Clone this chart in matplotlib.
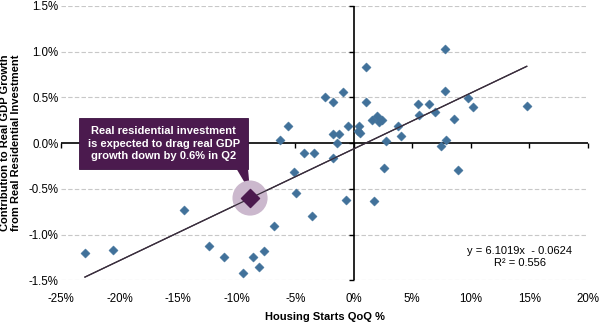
import matplotlib
matplotlib.use("Agg")
import matplotlib.pyplot as plt
import numpy as np
from matplotlib.patches import Rectangle, Polygon

plt.rcParams['font.family'] = ['Liberation Sans', 'DejaVu Sans']

# Housing starts QoQ % (x) vs contribution to real GDP growth from residential investment (y, %)
housing_starts = [-22.97, -20.55, -14.53, -12.40, -11.06, -9.44, -8.63, -8.12, -7.64, -6.79,
                  -6.30, -5.65, -5.13, -4.91, -4.27, -3.42, -3.59, -2.48, -1.74, -1.79,
                  -1.28, -1.40, -1.74, -0.89, -0.52, -0.63, 0.48, 0.35, 0.50, 1.05,
                  1.08, 1.73, 1.59, 1.97, 2.16, 2.45, 2.62, 2.76, 3.76, 4.04,
                  5.50, 5.58, 6.44, 6.92, 7.46, 7.83, 7.80, 7.86, 8.55, 8.94,
                  9.80, 10.17, 14.79]
gdp_contrib = [-1.20, -1.17, -0.73, -1.12, -1.24, -1.42, -1.25, -1.35, -1.175, -0.905,
               0.03, 0.19, -0.31, -0.55, -0.11, -0.11, -0.80, 0.51, 0.455, 0.10,
               0.098, 0.0, -0.16, 0.56, 0.19, -0.62, 0.19, 0.135, 0.11, 0.83,
               0.455, -0.63, 0.25, 0.30, 0.23, 0.25, -0.27, 0.02, 0.19, 0.08,
               0.43, 0.31, 0.43, 0.34, -0.03, 1.035, 0.57, 0.03, 0.26, -0.295,
               0.49, 0.40, 0.41]

# Q2 forecast point
q2_x = [-8.86]
q2_y = [-0.60]

# Regression: y = 6.1019x - 0.0624 (x as a fraction, y in %)
slope = 6.1019
intercept = -0.0624

x_ticks = [-25, -20, -15, -10, -5, 0, 5, 10, 15, 20]
x_tick_labels = ['-25%', '-20%', '-15%', '-10%', '-5%', '0%', '5%', '10%', '15%', '20%']
y_ticks = [-1.5, -1.0, -0.5, 0.0, 0.5, 1.0, 1.5]
y_tick_labels = ['-1.5%', '-1.0%', '-0.5%', '0.0%', '0.5%', '1.0%', '1.5%']

callout_text = "Real residential investment\nis expected to drag real GDP\ngrowth down by 0.6% in Q2"

fig = plt.figure(figsize=(6.0, 3.23), dpi=100)
ax = fig.add_axes([0.102, 0.132, 0.8775, 0.8495])
ax.set_xlim(-25, 20)
ax.set_ylim(-1.5, 1.5)

for s in ax.spines.values():
    s.set_visible(False)

# grid lines
for yv in y_ticks:
    if yv != 0:
        ax.axhline(yv, color='#C8C8C8', lw=0.8, ls=(0, (4, 2)), zorder=0)

# zero axes
ax.axhline(0, color='black', lw=1.2, zorder=1)
ax.axvline(0, color='black', lw=1.2, zorder=1)
ax.plot(x_ticks, np.zeros(len(x_ticks)), ls='none', marker=3, ms=3.5, mew=1.0,
        color='black', clip_on=False, zorder=1)
ax.plot(np.zeros(len(y_ticks)), y_ticks, ls='none', marker=0, ms=3.5, mew=1.0,
        color='black', clip_on=False, zorder=1)

ax.set_xticks(x_ticks)
ax.set_xticklabels(x_tick_labels)
ax.set_yticks(y_ticks)
ax.set_yticklabels(y_tick_labels)
ax.tick_params(axis='both', length=0, labelsize=8.3, colors='black')
ax.tick_params(axis='x', pad=9)
ax.tick_params(axis='y', pad=2)

# trend line
xl = np.array([min(housing_starts), max(housing_starts)])
ax.plot(xl, slope * xl / 100 + intercept, color='#3A2E3D', lw=0.9, zorder=3)

# data points
ax.scatter(housing_starts, gdp_contrib, marker='D', s=22, color='#41719A',
           edgecolors='#41719A', linewidths=0.3, zorder=4)

# callout box and pointer
box = Rectangle((-23.48, -0.284), 14.45, 0.561, facecolor='#4B1A4E',
                edgecolor='#3A1040', lw=0.6, zorder=5)
ax.add_patch(box)
ptr = Polygon([(-10.0, -0.284), (-9.03, -0.284), (q2_x[0], -0.53)], closed=True,
              facecolor='#4B1A4E', edgecolor='none', zorder=5)
ax.add_patch(ptr)
ax.text(-16.25, -0.005, callout_text, ha='center', va='center', color='white',
        fontsize=8, fontweight='bold', linespacing=1.3, zorder=6)

# highlight
ax.scatter(q2_x, q2_y, s=640, color='#CBB8CD', edgecolors='none', zorder=6)
ax.plot(xl, slope * xl / 100 + intercept, color='#3A2E3D', lw=0.9, zorder=6.5)
ax.scatter(q2_x, q2_y, marker='D', s=85, color='#4B1A4E', edgecolors='#4B1A4E', zorder=7)

# equation
ax.text(14.2, -1.245, "y = 6.1019x  - 0.0624\nR² = 0.556", ha='center', va='center',
        fontsize=8, color='black', linespacing=1.3)

ax.set_xlabel("Housing Starts QoQ %", fontsize=8, fontweight='bold', labelpad=5)
ax.set_ylabel("Contribution to Real GDP Growth\nfrom Real Residential Investment",
              fontsize=8, fontweight='bold', labelpad=5, linespacing=1.15)

fig.savefig("out.png", dpi=100)
